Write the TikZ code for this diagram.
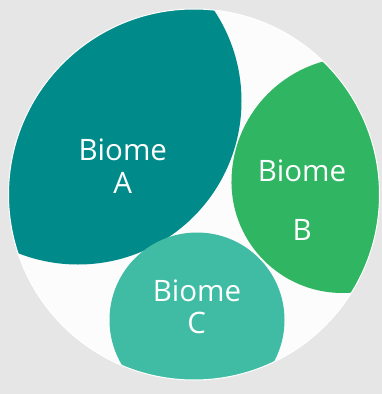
\documentclass[tikz,border=0pt]{standalone}
\usepackage{fontspec}
\setmainfont{Open Sans}
\definecolor{bgcol}{RGB}{230,230,230}
\definecolor{circfill}{RGB}{252,252,252}
\definecolor{colA}{RGB}{0,139,138}
\definecolor{colB}{RGB}{48,181,98}
\definecolor{colC}{RGB}{64,188,164}
\begin{document}
\begin{tikzpicture}[x=1pt,y=-1pt,
  lbl/.style={text=white, inner sep=0pt, anchor=base, font=\fontsize{29.5}{33}\selectfont}]
\useasboundingbox (0,0) rectangle (382,394);
\fill[bgcol] (0,0) rectangle (382,394);
\coordinate (O) at (194,194.5);
\fill[circfill] (O) circle[radius=185.5];
\begin{scope}
  \clip (O) circle[radius=185.5];
  \fill[colA] (78,101) circle[radius=163.5];
  \begin{scope}
    \clip (200,0) rectangle (382,183);
    \fill[colB] (356.5,182) circle[radius=125];
  \end{scope}
  \begin{scope}
    \clip (200,181) rectangle (382,394);
    \fill[colB] (342.5,182) circle[radius=111];
  \end{scope}
  \fill[colC] (197,320) circle[radius=87.5];
\end{scope}
\draw[white, line width=1pt] (O) circle[radius=185.5];
\node[lbl] (a1) at (122.8,160) {Biome};
\node[lbl] (a2) at (122.8,193) {A};
\node[lbl] (b1) at (302,181) {Biome};
\node[lbl] (b2) at (302.3,240) {B};
\node[lbl] (c1) at (197,301) {Biome};
\node[lbl] (c2) at (196.7,333.3) {C};
\end{tikzpicture}
\end{document}
